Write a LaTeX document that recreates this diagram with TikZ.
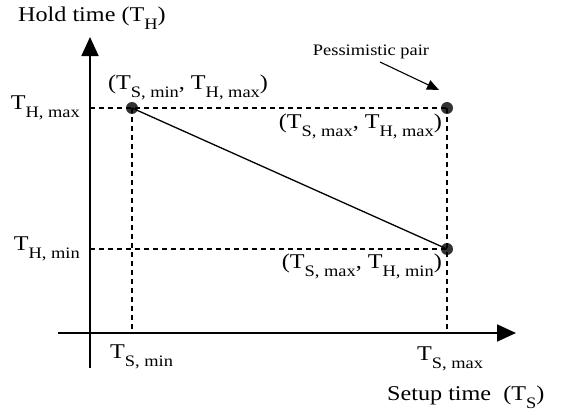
\documentclass[tikz,border=0pt]{standalone}
\usepackage{fontspec}
\setmainfont[FakeStretch=1.15]{Liberation Serif}
\usetikzlibrary{arrows.meta}
\newcommand{\lsub}[1]{\raisebox{-8pt}{\fontsize{16}{16}\selectfont #1}}
\tikzset{
  lbl/.style={inner sep=0pt, font=\fontsize{21}{21}\selectfont},
  axis/.style={line width=1.8pt, -{Triangle[length=19pt,width=17pt]}},
  guide/.style={line width=1.3pt, dash pattern=on 5pt off 4pt},
  pt/.style={circle, fill=black!80, minimum size=12pt, inner sep=0pt},
}
\begin{document}
\begin{tikzpicture}[x=1pt,y=-1pt]
\useasboundingbox (0,0) rectangle (574,415);
% axes
\coordinate (ybot) at (90,368);
\coordinate (ytop) at (90,37);
\coordinate (xl) at (58,333);
\coordinate (xr) at (516,333);
\coordinate (a1) at (90,108);
\coordinate (a2) at (90,249);
\coordinate (b1) at (132,333);
\coordinate (b2) at (447,333);
\draw[axis] (ybot) -- (ytop);
\draw[axis] (xl) -- (xr);
% points
\node[pt] (p1) at (132,108) {};
\node[pt] (p2) at (447,108) {};
\node[pt] (p3) at (447,249) {};
% guides
\draw[guide] (a1) -- (p2.center);
\draw[guide] (a2) -- (p3.center);
\draw[guide] (p1.center) -- (b1);
\draw[guide] (p2.center) -- (b2);
\draw[line width=1.3pt] (p1.center) -- (p3.center);
% labels
\node[lbl, anchor=base west] (ht) at (18,21) {Hold time (T\lsub{H})};
\node[lbl, anchor=base west] (st) at (387,400) {Setup time\ \ (T\lsub{S})};
\node[lbl, anchor=base east] (thmax) at (80,109) {T\lsub{H, max}};
\node[lbl, anchor=base east] (thmin) at (80,250) {T\lsub{H, min}};
\node[lbl, anchor=base west] (tsmin) at (110,358) {T\lsub{S, min}};
\node[lbl, anchor=base west] (tsmax) at (417,360) {T\lsub{S, max}};
\node[lbl, anchor=base] (l1) at (188,89) {(T\lsub{S, min}, T\lsub{H, max})};
\node[lbl, anchor=base east] (l2) at (442,128) {(T\lsub{S, max}, T\lsub{H, max})};
\node[lbl, anchor=base east] (l3) at (442,268) {(T\lsub{S, max}, T\lsub{H, min})};
\node[inner sep=0pt, anchor=base, font=\fontsize{16}{16}\selectfont] (pp) at (371,55) {Pessimistic pair};
\coordinate (ppfrom) at (380,62);
\coordinate (pptip) at (439,90);
\draw[line width=1.1pt, -{Triangle[length=12pt,width=10pt]}] (ppfrom) -- (pptip);
\end{tikzpicture}
\end{document}
